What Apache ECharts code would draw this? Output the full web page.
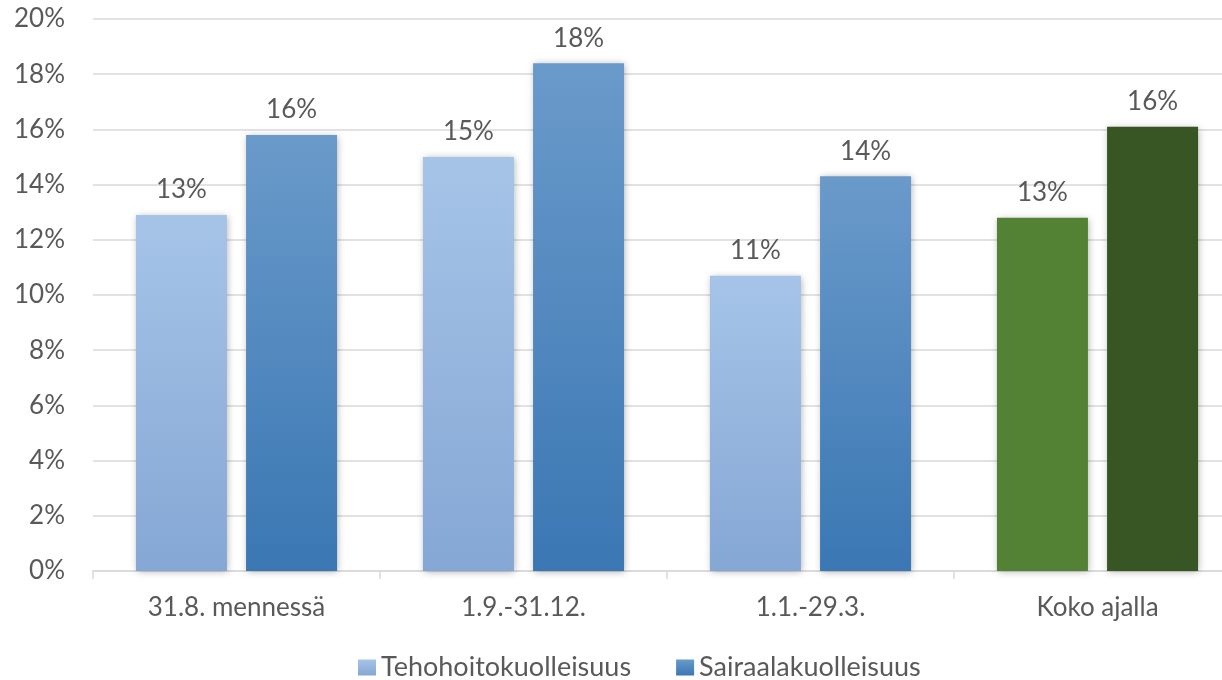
<!DOCTYPE html>
<html>
<head>
<meta charset="utf-8">
<script src="https://cdn.jsdelivr.net/npm/echarts@6/dist/echarts.min.js"></script>
<style>
  html, body { margin: 0; padding: 0; background: #fff; overflow: hidden; }
  /* the original chart runs a little past the right edge of the picture */
  #main { width: 1241px; height: 680px; }
</style>
</head>
<body>
<div id="main"></div>
<script>
  var categories = ['31.8. mennessä', '1.9.-31.12.', '1.1.-29.3.', 'Koko ajalla']
  var tehohoito = [12.9, 15.0, 10.7, 12.8]
  var sairaala = [15.8, 18.4, 14.3, 16.1]
  var yTicks = [0, 2, 4, 6, 8, 10, 12, 14, 16, 18, 20]

  var textColor = '#595959'
  var font = 'Lato, "Open Sans", sans-serif'

  function grad(top, bottom) {
    return new echarts.graphic.LinearGradient(0, 0, 0, 1, [
      { offset: 0, color: top },
      { offset: 1, color: bottom }
    ])
  }
  var lightBlue = grad('#a6c4e8', '#85a7d4')
  var darkBlue = grad('#6a9aca', '#3a77b3')

  // last category is drawn in green
  function buildData(vals, greenColor) {
    return vals.map(function (v, i) {
      if (i === vals.length - 1) {
        return { value: v, itemStyle: { color: greenColor } }
      }
      return v
    })
  }

  var shadow = {
    shadowBlur: 7,
    shadowColor: 'rgba(0,0,0,0.3)',
    shadowOffsetX: 1,
    shadowOffsetY: 1
  }

  var labelCfg = {
    show: true,
    position: 'top',
    distance: 12,
    color: textColor,
    fontSize: 26,
    fontFamily: font,
    formatter: function (p) { return Math.round(p.value) + '%' }
  }

  var myChart = echarts.init(document.getElementById('main'))
  var option = {
    backgroundColor: '#fff',
    animation: false,
    grid: { left: 93, right: 0, top: 19, bottom: 109, containLabel: false },
    legend: {
      top: 649,
      left: 353,
      itemWidth: 18,
      itemHeight: 16,
      itemGap: 45,
      icon: 'rect',
      textStyle: { color: textColor, fontSize: 27, fontFamily: font },
      data: ['Tehohoitokuolleisuus', 'Sairaalakuolleisuus']
    },
    xAxis: {
      type: 'category',
      data: categories,
      axisLine: { lineStyle: { color: '#d9d9d9', width: 1.5 } },
      axisTick: { show: true, length: 8, lineStyle: { color: '#d9d9d9', width: 1.5 } },
      axisLabel: { color: textColor, fontSize: 26, fontFamily: font, margin: 24 }
    },
    yAxis: {
      type: 'value',
      min: yTicks[0],
      max: yTicks[yTicks.length - 1],
      interval: 2,
      axisLine: { show: false },
      axisTick: { show: false },
      splitLine: { lineStyle: { color: '#d9d9d9', width: 1.5 } },
      axisLabel: {
        color: textColor, fontSize: 26, fontFamily: font, margin: 28,
        formatter: '{value}%'
      }
    },
    series: [
      {
        name: 'Tehohoitokuolleisuus',
        type: 'bar',
        barWidth: 91,
        barGap: '21%',
        data: buildData(tehohoito, '#548235'),
        itemStyle: Object.assign({ color: lightBlue }, shadow),
        label: labelCfg
      },
      {
        name: 'Sairaalakuolleisuus',
        type: 'bar',
        barWidth: 91,
        barGap: '21%',
        data: buildData(sairaala, '#375623'),
        itemStyle: Object.assign({ color: darkBlue }, shadow),
        label: labelCfg
      }
    ]
  }
  myChart.setOption(option)
</script>
</body>
</html>
